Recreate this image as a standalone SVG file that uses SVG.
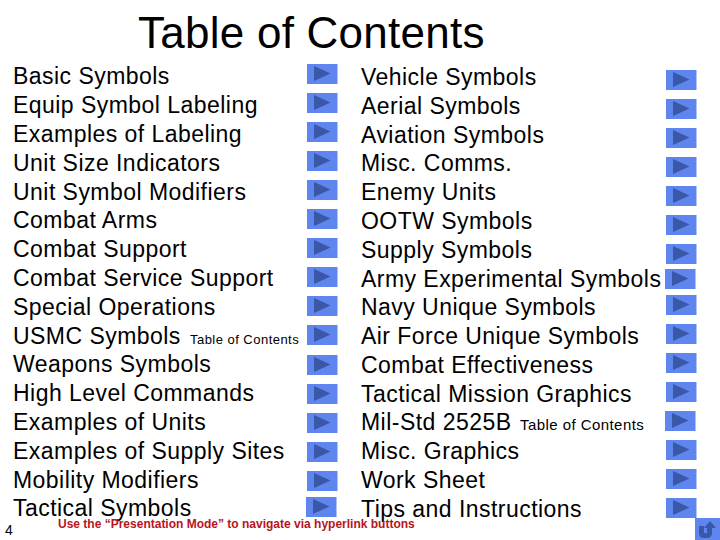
<svg xmlns="http://www.w3.org/2000/svg" width="720" height="540" viewBox="0 0 720 540">
<defs>
<g id="btn"><rect width="30.5" height="20" fill="#5f86ee"/><path d="M7 2 L23.5 9.5 L7 17 Z" fill="#3a57a8"/></g>
</defs>
<style>
text{font-family:"Liberation Sans",Arial,sans-serif;fill:#000}
.i{font-size:23px;letter-spacing:.46px}
.s{font-size:13px;letter-spacing:.47px}
.m{font-size:15px;letter-spacing:.44px}
.t{font-size:44px;letter-spacing:.25px}
.n{font-size:14px}
.r{font-size:12px;font-weight:bold;fill:#b8141c}
</style>
<rect width="720" height="540" fill="#fff"/>
<g id="title"><text class="t" x="138" y="48">Table of Contents</text></g>
<g id="left-list">
<text class="i" x="13" y="84">Basic Symbols</text>
<text class="i" x="13" y="113">Equip Symbol Labeling</text>
<text class="i" x="13" y="142">Examples of Labeling</text>
<text class="i" x="13" y="171">Unit Size Indicators</text>
<text class="i" x="13" y="200">Unit Symbol Modifiers</text>
<text class="i" x="13" y="228">Combat Arms</text>
<text class="i" x="13" y="257">Combat Support</text>
<text class="i" x="13" y="286">Combat Service Support</text>
<text class="i" x="13" y="315">Special Operations</text>
<text class="i" x="13" y="344">USMC Symbols <tspan class="s" x="190">Table of Contents</tspan></text>
<text class="i" x="13" y="372">Weapons Symbols</text>
<text class="i" x="13" y="401">High Level Commands</text>
<text class="i" x="13" y="430">Examples of Units</text>
<text class="i" x="13" y="459">Examples of Supply Sites</text>
<text class="i" x="13" y="488">Mobility Modifiers</text>
<text class="i" x="13" y="516">Tactical Symbols</text>
</g>
<g id="right-list">
<text class="i" x="361" y="85">Vehicle Symbols</text>
<text class="i" x="361" y="114">Aerial Symbols</text>
<text class="i" x="361" y="143">Aviation Symbols</text>
<text class="i" x="361" y="171">Misc. Comms.</text>
<text class="i" x="361" y="200">Enemy Units</text>
<text class="i" x="361" y="229">OOTW Symbols</text>
<text class="i" x="361" y="258">Supply Symbols</text>
<text class="i" x="361" y="287">Army Experimental Symbols</text>
<text class="i" x="361" y="315">Navy Unique Symbols</text>
<text class="i" x="361" y="344">Air Force Unique Symbols</text>
<text class="i" x="361" y="373">Combat Effectiveness</text>
<text class="i" x="361" y="402">Tactical Mission Graphics</text>
<text class="i" x="361" y="430">Mil-Std 2525B <tspan class="m" x="520">Table of Contents</tspan></text>
<text class="i" x="361" y="459">Misc. Graphics</text>
<text class="i" x="361" y="488">Work Sheet</text>
<text class="i" x="361" y="517">Tips and Instructions</text>
</g>
<g id="left-buttons">
<use href="#btn" x="307" y="64"/><use href="#btn" x="307" y="93"/><use href="#btn" x="307" y="122"/><use href="#btn" x="307" y="151"/><use href="#btn" x="307" y="180"/><use href="#btn" x="307" y="209"/><use href="#btn" x="307" y="238"/><use href="#btn" x="307" y="267"/><use href="#btn" x="307" y="296"/><use href="#btn" x="307" y="325"/><use href="#btn" x="307" y="355"/><use href="#btn" x="307" y="384"/><use href="#btn" x="307" y="413"/><use href="#btn" x="307" y="442"/><use href="#btn" x="307" y="471"/><use href="#btn" x="306" y="497"/>
</g>
<g id="right-buttons">
<use href="#btn" x="666" y="70"/><use href="#btn" x="666" y="99"/><use href="#btn" x="666" y="128"/><use href="#btn" x="666" y="157"/><use href="#btn" x="666" y="186"/><use href="#btn" x="666" y="215"/><use href="#btn" x="666" y="244"/><use href="#btn" x="665" y="269"/><use href="#btn" x="666" y="295"/><use href="#btn" x="666" y="324"/><use href="#btn" x="666" y="353"/><use href="#btn" x="666" y="382"/><use href="#btn" x="665" y="411"/><use href="#btn" x="666" y="440"/><use href="#btn" x="666" y="469"/><use href="#btn" x="666" y="498"/>
</g>
<g id="back-button"><rect x="695" y="518" width="25" height="22" fill="#5f86ee"/><path d="M699 526 V533 Q699 538 704 538 H707 Q712 538 712 533 V528 H716 L710 521 L704 528 H707 V533 H704 V526 Z" fill="#3a57a8"/></g>
<g id="footer"><text class="n" x="5" y="535">4</text><text class="r" x="58" y="528">Use the “Presentation Mode” to navigate via hyperlink buttons</text></g>
</svg>
